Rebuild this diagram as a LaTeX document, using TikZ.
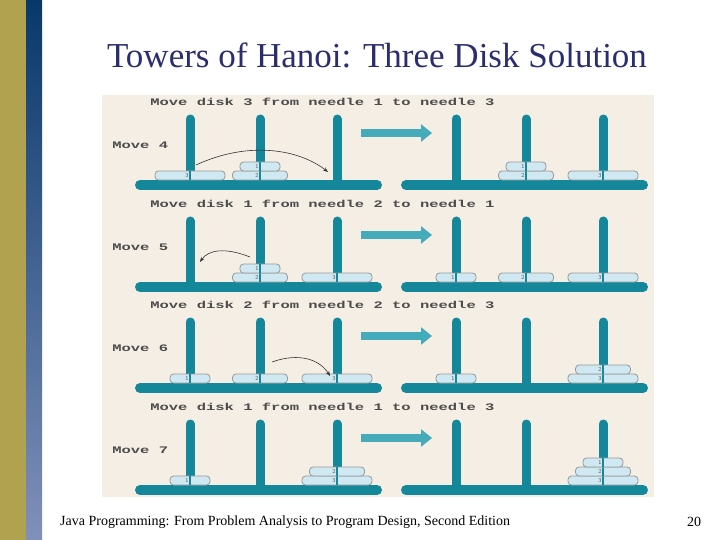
\documentclass[tikz,border=0pt]{standalone}
\usepackage{fontspec}
\setmainfont{Liberation Serif}
\newfontfamily\monofont{Liberation Mono}
\usetikzlibrary{arrows.meta}
\definecolor{olive}{HTML}{B0A24E}
\definecolor{navy}{HTML}{2B2E6E}
\definecolor{sand}{HTML}{F4EEE4}
\definecolor{pegc}{HTML}{14889A}
\definecolor{arrc}{HTML}{45AABA}
\definecolor{diskc}{HTML}{CFE8F2}
\tikzset{
    peg/.style={pegc, line width=9pt, line cap=round},
    base/.style={pegc, line width=10pt, line cap=round},
    disk/.style={draw=gray!80, fill=diskc, rounded corners=3.5pt, line width=0.8pt},
    caption/.style={anchor=west, xscale=1.55, font=\monofont\bfseries\fontsize{10}{10}\selectfont, text=gray!60!black, inner sep=0pt},
    movetext/.style={caption},
    bigarrow/.style={arrc, line width=8pt, -{Triangle[length=11pt, width=17pt]}},
    hop/.style={-{Stealth[length=5pt]}, gray!40!black, line width=0.6pt}
}
% \disk{x}{y}{size}{level}
\newcommand\drawdisk[4]{%
    \pgfmathsetmacro\hw{12.5+7.5*#3}
    \draw[disk] (#1-\hw, #2-5-9*#4) rectangle (#1+\hw, #2-14-9*#4);
    \draw[pegc, line width=1.2pt] (#1, #2-5-9*#4) -- (#1, #2-14-9*#4);
    \node[font=\sffamily\fontsize{6}{6}\selectfont, text=gray!70!black, inner sep=0pt] at (#1-3, #2-9.5-9*#4) {#3};
}
% \board{x0}{ybase}
\newcommand\board[2]{%
    \foreach \p in {0,70,147}
        \draw[peg] (#1+55+\p, #2-66) -- (#1+55+\p, #2);
    \draw[base] (#1+5, #2) -- (#1+242, #2);
}
\begin{document}
\begin{tikzpicture}[x=1pt, y=-1pt]
    \useasboundingbox (0,0) rectangle (720,540);
    \fill[white] (0,0) rectangle (720,540);
    \fill[olive] (0,0) rectangle (26,540);
    \shade[top color={rgb,255:red,8;green,56;blue,106}, bottom color={rgb,255:red,128;green,144;blue,186}] (26,0) rectangle (42,540);
    \node[text=navy, font=\fontsize{35}{36}\selectfont] (title) at (377,55) {Towers of Hanoi: Three Disk Solution};
    \fill[sand] (102,95) rectangle (654,497);

    \foreach \dy/\m/\txt in {0/4/{Move disk 3 from needle 1 to needle 3},
                             102/5/{Move disk 1 from needle 2 to needle 1},
                             203/6/{Move disk 2 from needle 2 to needle 3},
                             305/7/{Move disk 1 from needle 1 to needle 3}} {
        \node[caption] (cap\m) at (150, 102+\dy) {\txt};
        \node[movetext] (mv\m) at (112, 145+\dy) {Move \m};
        \board{135}{185+\dy}
        \board{401}{185+\dy}
        \draw[bigarrow] (361, 133+\dy) -- (432, 133+\dy);
    }

    % Move 4
    \drawdisk{190}{185}{3}{0}
    \drawdisk{260}{185}{2}{0}
    \drawdisk{260}{185}{1}{1}
    \drawdisk{526}{185}{2}{0}
    \drawdisk{526}{185}{1}{1}
    \drawdisk{603}{185}{3}{0}
    \draw[hop] (196,165) .. controls (250,140) and (300,150) .. (328,172);

    % Move 5
    \drawdisk{260}{287}{2}{0}
    \drawdisk{260}{287}{1}{1}
    \drawdisk{337}{287}{3}{0}
    \drawdisk{456}{287}{1}{0}
    \drawdisk{526}{287}{2}{0}
    \drawdisk{603}{287}{3}{0}
    \draw[hop] (250,257) .. controls (225,247) and (208,250) .. (200,262);

    % Move 6
    \drawdisk{190}{388}{1}{0}
    \drawdisk{260}{388}{2}{0}
    \drawdisk{337}{388}{3}{0}
    \drawdisk{456}{388}{1}{0}
    \drawdisk{603}{388}{3}{0}
    \drawdisk{603}{388}{2}{1}
    \draw[hop] (272,362) .. controls (300,352) and (320,360) .. (330,376);

    % Move 7
    \drawdisk{190}{490}{1}{0}
    \drawdisk{337}{490}{3}{0}
    \drawdisk{337}{490}{2}{1}
    \drawdisk{603}{490}{3}{0}
    \drawdisk{603}{490}{2}{1}
    \drawdisk{603}{490}{1}{2}

    \node[anchor=west, font=\fontsize{14}{15}\selectfont, inner sep=0pt] (foot) at (60,522) {Java Programming: From Problem Analysis to Program Design, Second Edition};
    \node[font=\fontsize{14}{15}\selectfont, inner sep=0pt] (page) at (694,522) {20};
\end{tikzpicture}
\end{document}
